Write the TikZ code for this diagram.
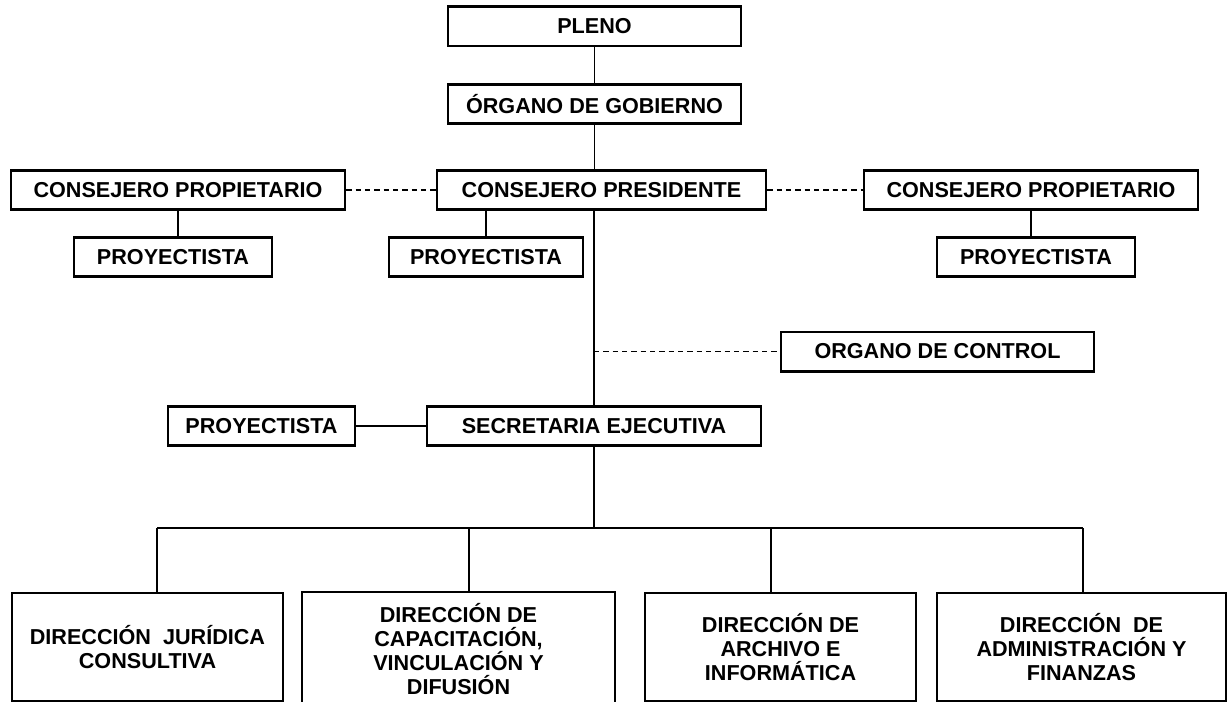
\documentclass[tikz,border=0pt]{standalone}
\usepackage{fontspec}
\setmainfont{Liberation Sans}
\usepackage{tikz}
\usetikzlibrary{positioning}
\tikzstyle{caja} = [draw=black, line width=1.9pt, rectangle, inner sep=0pt, minimum height=29.6pt, align=center, font=\bfseries\fontsize{16.2}{18}\selectfont]
\tikzstyle{direccion} = [caja, minimum height=81pt]
\tikzstyle{linea} = [draw=black, line width=0.8pt]
\tikzstyle{punteada} = [linea, dashed, dash pattern=on 4pt off 3pt]

\begin{document}
\begin{tikzpicture}[x=0.75pt, y=-0.75pt]
	\useasboundingbox (0,0) rectangle (1227,702);
	\node [caja, minimum width=219.75pt] (pleno) at (594.5,26.5) {PLENO};
	\node [caja, minimum width=219.75pt] (gobierno) at (594.5,104) {ÓRGANO DE GOBIERNO};
	\node [caja, minimum width=250.5pt] (propizq) at (178,190) {CONSEJERO PROPIETARIO};
	\node [caja, minimum width=246.75pt] (presidente) at (601.5,190) {CONSEJERO PRESIDENTE};
	\node [caja, minimum width=250.5pt] (propder) at (1031,190) {CONSEJERO PROPIETARIO};
	\node [caja, minimum width=148.5pt] (proy1) at (173,257) {PROYECTISTA};
	\node [caja, minimum width=145.5pt] (proy2) at (486,257) {PROYECTISTA};
	\node [caja, minimum width=148.5pt] (proy3) at (1036,257) {PROYECTISTA};
	\node [caja, minimum width=234.75pt] (control) at (937.5,351.5) {ORGANO DE CONTROL};
	\node [caja, minimum width=140.25pt] (proy4) at (261.5,426) {PROYECTISTA};
	\node [caja, minimum width=250.5pt] (secretaria) at (594,426) {SECRETARIA EJECUTIVA};
	\node [direccion, minimum width=203.25pt] (dir1) at (147.5,647) {DIRECCIÓN~~JURÍDICA\\CONSULTIVA};
	\node [direccion, minimum width=234.75pt, minimum height=85.5pt] (dir2) at (458.5,649) {DIRECCIÓN DE\\CAPACITACIÓN,\\VINCULACIÓN Y\\DIFUSIÓN};
	\node [direccion, minimum width=203.25pt] (dir3) at (780.5,647) {DIRECCIÓN DE\\ARCHIVO E\\INFORMÁTICA};
	\node [direccion, minimum width=216.75pt] (dir4) at (1081.5,647) {DIRECCIÓN~~DE\\ADMINISTRACIÓN Y\\FINANZAS};
	% lineas de mando
	\draw [linea] (pleno) -- (gobierno);
	\draw [linea] (gobierno) -- (gobierno |- presidente.north);
	\draw [linea] (presidente.south -| secretaria) -- (secretaria);
	\draw [punteada] (propizq) -- (presidente);
	\draw [punteada] (presidente) -- (propder);
	\draw [punteada] (control.west -| secretaria) -- (control);
	\draw [linea] (propizq) -- (propizq |- proy1.north);
	\draw [linea] (proy2.north) -- (proy2.north |- presidente.south);
	\draw [linea] (propder) -- (propder |- proy3.north);
	\draw [linea] (proy4) -- (secretaria);
	% direcciones
	\coordinate (b1) at (157,528);
	\coordinate (b2) at (469,528);
	\coordinate (b3) at (771,528);
	\coordinate (b4) at (1083,528);
	\draw [linea] (secretaria) -- (secretaria |- b1);
	\draw [linea] (b1) -- (b4);
	\foreach \i in {1,...,4}
		\draw [linea] (b\i) -- (b\i |- dir\i.north);
\end{tikzpicture}
\end{document}
